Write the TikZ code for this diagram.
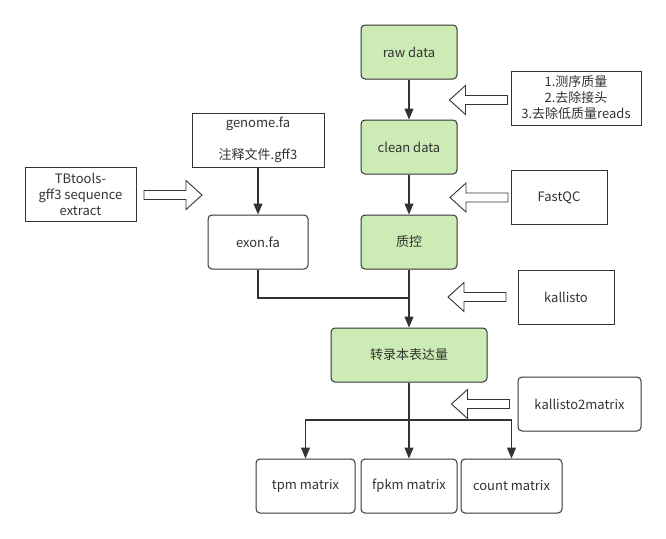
\documentclass[tikz,border=0pt]{standalone}
\usepackage{fontspec}
\setmainfont{Noto Sans CJK SC}
\usetikzlibrary{arrows.meta}
\definecolor{boxgreen}{RGB}{205,235,180}
\definecolor{ink}{RGB}{51,51,51}
\tikzset{
	box/.style={draw=ink, line width=1pt, minimum height=54pt, align=center, text=ink, inner sep=2pt},
	proc/.style={box, rounded corners=4pt, fill=boxgreen},
	file/.style={box, rounded corners=4pt, fill=white},
	tool/.style={box, fill=white},
	link/.style={draw=ink, line width=1.1pt, >={Triangle[length=11pt, width=9pt]}},
	hollow/.style={draw=ink, line width=0.9pt, fill=white},
	pics/harrow/.style={code={
		\draw[hollow] (0,0) -- (16,-14.5) -- (16,-4.5) -- (58,-4.5) -- (58,4.5) -- (16,4.5) -- (16,14.5) -- cycle;
	}}
}

\begin{document}
\begin{tikzpicture}[x=1pt, y=-1pt, font=\fontsize{13pt}{16pt}\selectfont]
\useasboundingbox (0,0) rectangle (666,538);
% main pipeline
\node (raw) [proc, minimum width=96pt] at (409,52) {raw data};
\node (clean) [proc, minimum width=96pt] at (409,147) {clean data};
\node (qc) [proc, minimum width=96pt] at (409,242) {质控};
\node (expr) [proc, minimum width=156pt] at (409,355) {转录本表达量};
\node (tpm) [file, minimum width=99pt] at (305.5,486) {tpm matrix};
\node (fpkm) [file, minimum width=96pt] at (409,486) {fpkm matrix};
\node (count) [file, minimum width=101pt] at (511.5,486) {count matrix};
% reference branch
\node (genome) [tool, minimum width=132pt] at (258,140) {genome.fa\\[15.5pt]注释文件.gff3};
\node (exon) [file, minimum width=100pt] at (258,242) {exon.fa};
\node (tbtools) [tool, minimum width=111pt] at (80.5,194) {TBtools-\\gff3 sequence\\extract};
% tools
\node (clean steps) [tool, minimum width=130pt] at (576,98) {1.测序质量\\2.去除接头\\3.去除低质量reads};
\node (fastqc) [tool, minimum width=96pt] at (559,197.5) {FastQC};
\node (kallisto) [tool, minimum width=96pt] at (566,297) {kallisto};
\node (k2m) [file, minimum width=123pt] at (579.5,404) {kallisto2matrix};
\coordinate (join) at (409,298);
\coordinate (fork) at (409,420);
\draw[link,->] (raw) -- (clean);
\draw[link,->] (clean) -- (qc);
\draw[link,->] (qc) -- (expr);
\draw[link,->] (genome) -- (exon);
\draw[link] (exon) |- (join);
\draw[link] (expr) -- (fork);
\draw[link,->] (fork) -| (tpm);
\draw[link,->] (fork) -- (fpkm);
\draw[link,->] (fork) -| (count);
% hollow arrows
\pic at (449.5,100) {harrow};
\pic at (450,197.5) {harrow};
\pic at (448,297) {harrow};
\pic at (451.5,404) {harrow};
\pic[rotate=180] at (202,195) {harrow};
\end{tikzpicture}
\end{document}
